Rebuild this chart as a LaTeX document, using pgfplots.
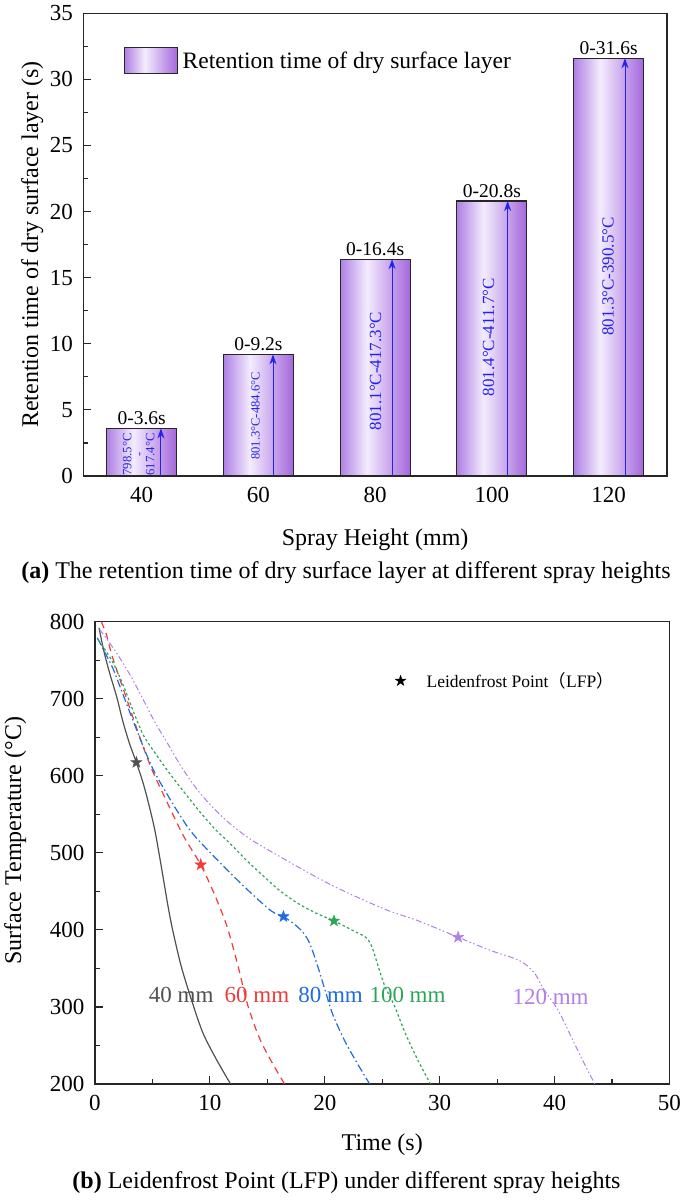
\documentclass[border=0pt]{standalone}
\usepackage{fontspec}
\setmainfont{Liberation Serif}
\newfontfamily\cjk{Noto Sans CJK SC}
\usepackage{pgfplots}
\pgfplotsset{compat=1.18}
\usetikzlibrary{arrows.meta}

\definecolor{barA}{HTML}{AF80E4}
\definecolor{barB}{HTML}{F3ECFD}
\definecolor{barC}{HTML}{A467DD}
\definecolor{arrblue}{HTML}{2222F0}
\definecolor{c40}{HTML}{505050}
\definecolor{c60}{HTML}{F03B3B}
\definecolor{c80}{HTML}{1F6BDF}
\definecolor{c100}{HTML}{2DA558}
\definecolor{c120}{HTML}{B27EE8}
\pgfdeclarehorizontalshading{barshade}{100bp}{color(0bp)=(barA); color(25bp)=(barA); color(44bp)=(barB); color(75bp)=(barC); color(100bp)=(barC)}

\pgfdeclareplotmark{fstar}{%
  \pgfpathmoveto{\pgfpointpolar{90}{\pgfplotmarksize}}%
  \pgfpathlineto{\pgfpointpolar{126}{0.4\pgfplotmarksize}}%
  \pgfpathlineto{\pgfpointpolar{162}{\pgfplotmarksize}}%
  \pgfpathlineto{\pgfpointpolar{198}{0.4\pgfplotmarksize}}%
  \pgfpathlineto{\pgfpointpolar{234}{\pgfplotmarksize}}%
  \pgfpathlineto{\pgfpointpolar{270}{0.4\pgfplotmarksize}}%
  \pgfpathlineto{\pgfpointpolar{306}{\pgfplotmarksize}}%
  \pgfpathlineto{\pgfpointpolar{342}{0.4\pgfplotmarksize}}%
  \pgfpathlineto{\pgfpointpolar{18}{\pgfplotmarksize}}%
  \pgfpathlineto{\pgfpointpolar{54}{0.4\pgfplotmarksize}}%
  \pgfpathclose
  \pgfusepathqfillstroke}

\pgfplotsset{
  common/.style={
    scale only axis,
    tick align=inside, tick pos=left,
    major tick length=8pt, minor tick length=5pt,
    axis line style={line width=1.4pt, black!85},
    every tick/.style={line width=1.2pt, black!85},
    ticklabel style={font=\fontsize{23}{26}\selectfont},
    xticklabel style={yshift=-8pt},
    yticklabel style={xshift=-7pt},
    /pgf/number format/assume math mode=true,
    label style={font=\fontsize{24}{28}\selectfont},
  },
  onebar/.style={ybar, bar shift=0pt, bar width=12, draw=black!85, line width=1.1pt, shade, shading=barshade},
  arr/.style={arrblue, line width=0.9pt, -{Stealth[length=10pt,width=7pt]}, forget plot},
}

\begin{document}
\begin{tikzpicture}
\path[use as bounding box] (0pt,0pt) rectangle (685pt,1200pt);

% ---------- (a) ----------
\begin{axis}[common,
  at={(83.3pt,724pt)}, anchor=south west,
  width=583.7pt, height=462.7pt,
  xmin=30, xmax=130, ymin=0, ymax=35,
  xtick={40,60,80,100,120}, ytick={0,5,...,35}, minor y tick num=1,
  xlabel={Spray Height (mm)},
  ylabel={Retention time of dry surface layer (s)},
  xlabel style={at={(axis description cs:0.5,-0.137)}, anchor=center},
  ylabel style={at={(axis description cs:-0.0874,0.5)}, anchor=center},
  legend cell align=left,
  legend style={at={(rel axis cs:0.0697,0.897)}, anchor=west, draw=none, fill=none,
     inner sep=0pt, font=\fontsize{23.5}{26}\selectfont},
  legend image code/.code={\path[draw=none,fill=none] (0pt,0pt) -- (56pt,0pt);
     \draw[shade, shading=barshade, draw=black!85, line width=1pt] (0pt,-13pt) rectangle (53pt,13pt);},
]
\addplot[onebar] coordinates {(40,3.6)};
\addlegendentry{Retention time of dry surface layer}
\addplot[onebar, forget plot] coordinates {(60,9.2)};
\addplot[onebar, forget plot] coordinates {(80,16.4)};
\addplot[onebar, forget plot] coordinates {(100,20.8)};
\addplot[onebar, forget plot] coordinates {(120,31.6)};

\addplot[arr] coordinates {(43.3,0) (43.3,3.6)};
\addplot[arr] coordinates {(62.5,0) (62.5,9.2)};
\addplot[arr] coordinates {(82.9,0) (82.9,16.4)};
\addplot[arr] coordinates {(102.7,0) (102.7,20.8)};
\addplot[arr] coordinates {(122.8,0) (122.8,31.6)};

\node[anchor=south, font=\fontsize{19.5}{22}\selectfont] at (axis cs:40,3.6) {0-3.6s};
\node[anchor=south, font=\fontsize{19.5}{22}\selectfont] at (axis cs:60,9.2) {0-9.2s};
\node[anchor=south, font=\fontsize{19.5}{22}\selectfont] at (axis cs:80,16.4) {0-16.4s};
\node[anchor=south, font=\fontsize{19.5}{22}\selectfont] at (axis cs:100,20.8) {0-20.8s};
\node[anchor=south, font=\fontsize{19.5}{22}\selectfont] at (axis cs:120,31.6) {0-31.6s};

\node[rotate=90, align=center, text=arrblue, inner sep=0pt, font=\fontsize{12.7}{11.5}\selectfont] at (axis cs:39.5,1.63) {798.5°C\\-\\617.4°C};
\node[rotate=90, text=arrblue, inner sep=0pt, font=\fontsize{12.6}{14}\selectfont] at (axis cs:59.5,4.54) {801.3°C-484.6°C};
\node[rotate=90, text=arrblue, inner sep=0pt, font=\fontsize{17}{19}\selectfont] at (axis cs:80.06,7.94) {801.1°C-417.3°C};
\node[rotate=90, text=arrblue, inner sep=0pt, font=\fontsize{17}{19}\selectfont] at (axis cs:99.45,10.5) {801.4°C-411.7°C};
\node[rotate=90, text=arrblue, inner sep=0pt, font=\fontsize{17}{19}\selectfont] at (axis cs:119.9,15.1) {801.3°C-390.5°C};
\end{axis}

\node[font=\fontsize{24}{28}\selectfont] at (346pt,627pt) {\textbf{(a)} The retention time of dry surface layer at different spray heights};

% ---------- (b) ----------
\begin{axis}[common,
  at={(95pt,116pt)}, anchor=south west,
  width=574.5pt, height=462.3pt,
  xmin=0, xmax=50, ymin=200, ymax=800,
  xtick={0,10,...,50}, ytick={200,300,...,800},
  minor x tick num=1, minor y tick num=1,
  xlabel={Time (s)},
  ylabel={Surface Temperature (°C)},
  xlabel style={at={(axis description cs:0.5,-0.132)}, anchor=center},
  ylabel style={at={(axis description cs:-0.139,0.526)}, anchor=center},
  legend cell align=left,
  legend style={at={(rel axis cs:0.522,0.872)}, anchor=west, draw=none, fill=none,
     inner sep=0pt, font=\fontsize{17.5}{20}\selectfont},
]
\addlegendimage{legend image code/.code={%
  \path[draw=none,fill=none] (-5.5pt,0pt) -- (24pt,0pt);
  \fill[black] (90:5.5pt) -- (126:2.2pt) -- (162:5.5pt) -- (198:2.2pt) -- (234:5.5pt) -- (270:2.2pt) -- (306:5.5pt) -- (342:2.2pt) -- (18:5.5pt) -- (54:2.2pt) -- cycle;}}
\addlegendentry{Leidenfrost Point{\cjk （}LFP{\cjk ）}}

\addplot[c40, line width=1.2pt, smooth, tension=0.5, forget plot] coordinates {
(0.35,792) (0.8,760) (1.3,732) (1.9,702) (2.4,672) (3.0,642) (3.6,617.4) (4.2,590)
(4.7,562) (5.2,530) (5.6,497) (6.0,462) (6.4,427) (6.8,397) (7.5,353) (8.4,309)
(9.4,266) (10.6,231) (11.8,200)};
\addplot[c60, line width=1.2pt, dash pattern=on 7pt off 5pt, smooth, tension=0.5, forget plot] coordinates {
(0.55,800) (1.0,783) (1.4,760) (1.9,737) (2.8,698) (3.9,650) (4.9,610) (6.2,568)
(7.7,522) (9.2,484.6) (10.4,446) (11.5,404) (12.5,350) (13.3,302) (14.3,260)
(15.4,228) (16.5,200)};
\addplot[c80, line width=1.2pt, dash pattern=on 8pt off 3pt on 1.5pt off 3pt, smooth, tension=0.5, forget plot] coordinates {
(0.2,779) (0.9,759) (1.6,738) (2.4,707) (3.3,672) (4.2,638) (5.1,607) (6.2,578)
(7.3,551) (8.5,525) (10.7,490) (13.0,456) (15.3,425) (16.4,417.3) (17.3,408)
(18.1,397) (18.7,382) (19.4,352) (20.1,318) (20.7,290) (21.7,257) (22.7,230) (23.9,200)};
\addplot[c100, line width=1.2pt, dash pattern=on 2.5pt off 2.5pt, smooth, tension=0.5, forget plot] coordinates {
(0.3,776) (0.9,763) (1.6,746) (2.5,716) (3.3,685) (4.2,653) (5.3,628) (6.5,603)
(7.8,578) (9.2,552) (10.5,530) (11.9,510) (13.2,490) (14.5,472) (16.0,452)
(17.6,435) (19.2,422) (20.8,411.7) (22.6,398) (23.6,390)
(24.1,378) (24.6,355) (25.2,328) (26.1,300) (27.0,266) (28.1,231) (29.2,200)};
\addplot[c120, line width=1pt, dash pattern=on 6pt off 2.5pt on 1.5pt off 2.5pt on 1.5pt off 2.5pt, smooth, tension=0.5, forget plot] coordinates {
(0.4,790) (1.3,772) (2.2,752) (3.2,727) (4.26,697) (5.2,670) (6.2,645) (7.5,612)
(8.8,584) (10.0,563) (11.5,541) (13.5,518) (16.1,495) (20.6,458) (25.2,427)
(28.1,412) (31.6,390.5) (34.3,374) (36.5,363)
(37.4,356) (38.3,343) (39.1,322) (40.3,296) (41.45,261) (42.6,226) (43.5,200)};

\addplot[only marks, mark=fstar, mark size=6pt, c40, forget plot] coordinates {(3.6,617.4)};
\addplot[only marks, mark=fstar, mark size=6pt, c60, forget plot] coordinates {(9.2,484.6)};
\addplot[only marks, mark=fstar, mark size=6pt, c80, forget plot] coordinates {(16.4,417.3)};
\addplot[only marks, mark=fstar, mark size=6pt, c100, forget plot] coordinates {(20.8,411.7)};
\addplot[only marks, mark=fstar, mark size=6pt, c120, forget plot] coordinates {(31.6,390.5)};

\node[text=c40, font=\fontsize{23}{26}\selectfont] at (axis cs:7.5,315) {40 mm};
\node[text=c60, font=\fontsize{23}{26}\selectfont] at (axis cs:14.1,315) {60 mm};
\node[text=c80, font=\fontsize{23}{26}\selectfont] at (axis cs:20.5,315) {80 mm};
\node[text=c100, font=\fontsize{23}{26}\selectfont] at (axis cs:27.2,315) {100 mm};
\node[text=c120, font=\fontsize{23}{26}\selectfont] at (axis cs:39.65,313) {120 mm};
\end{axis}

\node[font=\fontsize{24}{28}\selectfont] at (346.5pt,17pt) {\textbf{(b)} Leidenfrost Point (LFP) under different spray heights};
\end{tikzpicture}
\end{document}
